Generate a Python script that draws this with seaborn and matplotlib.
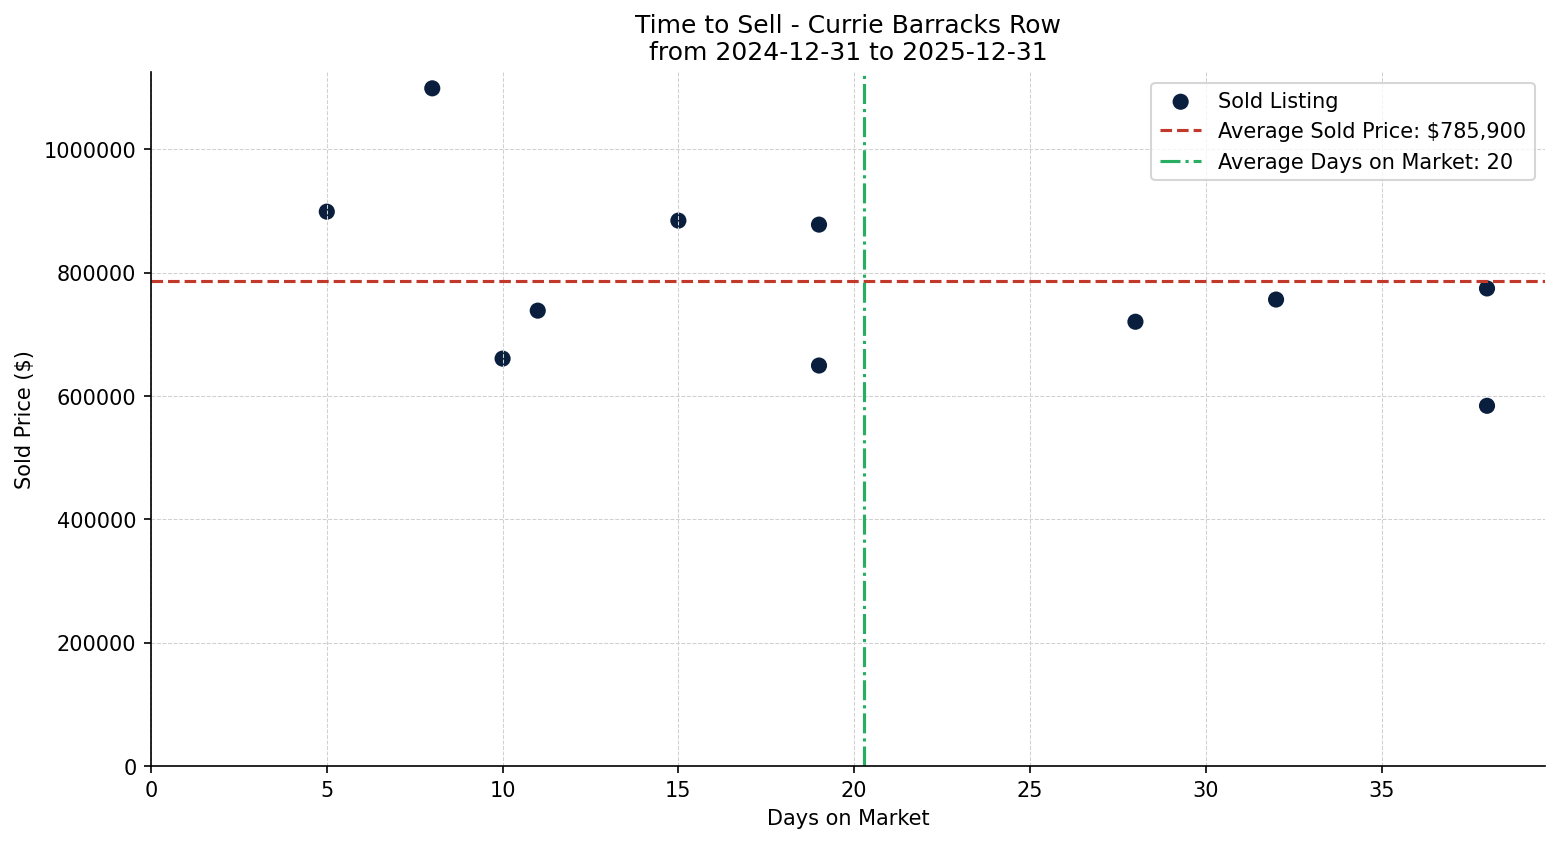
import pandas as pd
import seaborn as sns
import matplotlib.pyplot as plt

days = [5, 8, 10, 11, 15, 19, 19, 28, 32, 38, 38]
prices = [899000, 1099000, 660700, 738500, 884500, 878000, 649500, 720500, 756500, 774500, 584200]

df = pd.DataFrame({"days": days, "price": prices})
avg_price = df["price"].mean()
avg_days = df["days"].mean()

fig, ax = plt.subplots(figsize=(10.4, 5.63), dpi=150)

sns.scatterplot(data=df, x="days", y="price", color="#0a1f3d", s=60,
                edgecolor="none", label="Sold Listing", ax=ax, zorder=1)
ax.axhline(avg_price, color="#c0392b", linestyle="--", linewidth=1.5,
           label=f"Average Sold Price: ${avg_price:,.0f}")
ax.axvline(avg_days, color="#27ae60", linestyle="-.", linewidth=1.5,
           label=f"Average Days on Market: {avg_days:.0f}")

ax.set_xlim(left=0)
ax.set_ylim(bottom=0)
ax.ticklabel_format(axis="y", style="plain", useOffset=False)
ax.set_axisbelow("line")
ax.grid(True, linestyle="--", linewidth=0.5, color="#d0d0d0")
sns.despine(ax=ax)

ax.set_title("Time to Sell - Currie Barracks Row\nfrom 2024-12-31 to 2025-12-31", fontsize=12)
ax.set_xlabel("Days on Market")
ax.set_ylabel("Sold Price ($)")
ax.legend(loc="upper right")

fig.subplots_adjust(left=0.0968, right=0.9904, top=0.9136, bottom=0.0923)
plt.savefig("out.png", dpi=150)
